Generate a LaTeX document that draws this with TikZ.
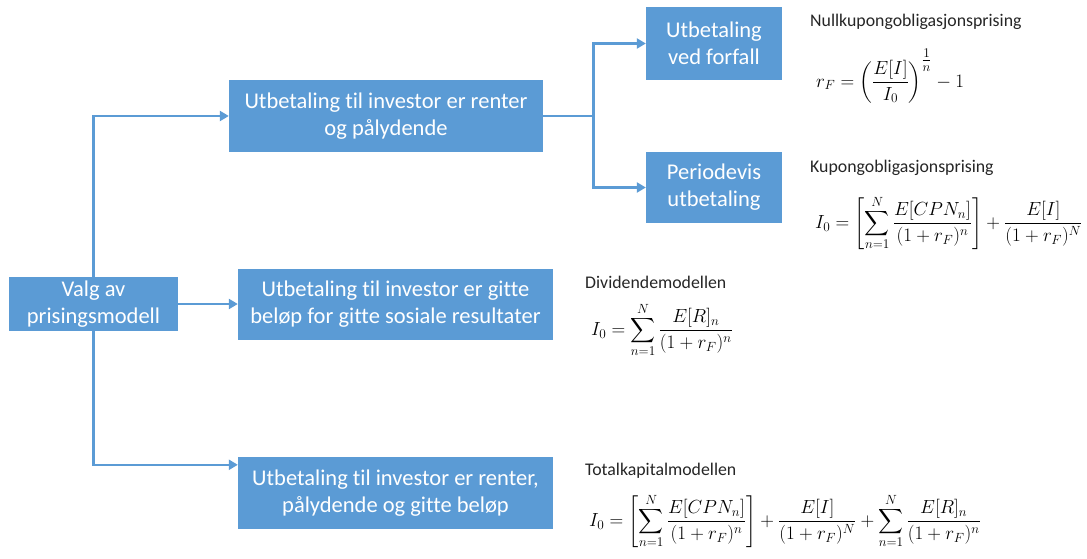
\RequirePackage{fix-cm}
\documentclass[tikz,border=0pt]{standalone}
\usepackage{amsmath}
\usepackage{fontspec}
\setmainfont{Carlito}[Ligatures={NoCommon}]
\usetikzlibrary{arrows.meta}
\definecolor{boxblue}{HTML}{5B9BD5}
\begin{document}
\begin{tikzpicture}[x=1pt,y=-1pt,
  box/.style={fill=boxblue, text=white, align=center, inner sep=0pt,
    font=\fontsize{22.5}{27}\selectfont},
  link/.style={draw=boxblue, line width=2.6pt},
  conn/.style={link, -{Triangle[length=9pt,width=10pt]}},
  lbl/.style={anchor=west, inner sep=0pt, font=\fontsize{17.8}{20}\selectfont, text=black!85},
  eq/.style={anchor=west, inner sep=0pt, font=\fontsize{19}{22}\selectfont}]
\useasboundingbox (0,0) rectangle (1087,559);
\fill[white] (0,0) rectangle (1087,559);
% boxes
\node[box, minimum width=169pt, minimum height=54pt] (v) at (93.5,304) {Valg av\\prisingsmodell};
\node[box, minimum width=314pt, minimum height=72pt] (a) at (386,116) {Utbetaling til investor er renter\\og pålydende};
\node[box, minimum width=315pt, minimum height=71pt] (b) at (395.5,304) {Utbetaling til investor er gitte\\beløp for gitte sosiale resultater};
\node[box, minimum width=315pt, minimum height=72pt] (c) at (395.5,493) {Utbetaling til investor er renter,\\pålydende og gitte beløp};
\node[box, minimum width=136pt, minimum height=73pt] (d) at (714,43.5) {Utbetaling\\ved forfall};
\node[box, minimum width=136pt, minimum height=71pt] (e) at (714,187.5) {Periodevis\\utbetaling};
% connectors
\draw[conn] (v.north) |- (a.west);
\draw[conn] (v.east) -- (b.west);
\draw[conn] (v.south) |- ([yshift=-8pt]c.north west);
\draw[link] (a.east) -- ++(50,0) coordinate (br);
\draw[conn] (br) |- (d.west);
\draw[conn] (br) |- (e.west);
% labels and formulas
\node[lbl] (l1) at (810,22) {Nullkupongobligasjonsprising};
\node[eq] (f1) at (816,76) {$\displaystyle r_F=\left(\frac{E[I]}{I_0}\right)^{\genfrac{}{}{}{1}{1}{n}}-1$};
\node[lbl] (l2) at (810,168) {Kupongobligasjonsprising};
\node[eq] (f2) at (815,223) {$\displaystyle I_0=\left[\sum_{n=1}^{N}\frac{E[CPN_n]}{(1+r_F)^n}\right]+\frac{E[I]}{(1+r_F)^N}$};
\node[lbl] (l3) at (585,282) {Dividendemodellen};
\node[eq] (f3) at (591,330) {$\displaystyle I_0=\sum_{n=1}^{N}\frac{E[R]_n}{(1+r_F)^n}$};
\node[lbl] (l4) at (585,471) {Totalkapitalmodellen};
\node[eq] (f4) at (589,521) {$\displaystyle I_0=\left[\sum_{n=1}^{N}\frac{E[CPN_n]}{(1+r_F)^n}\right]+\frac{E[I]}{(1+r_F)^N}+\sum_{n=1}^{N}\frac{E[R]_n}{(1+r_F)^n}$};
\end{tikzpicture}
\end{document}
